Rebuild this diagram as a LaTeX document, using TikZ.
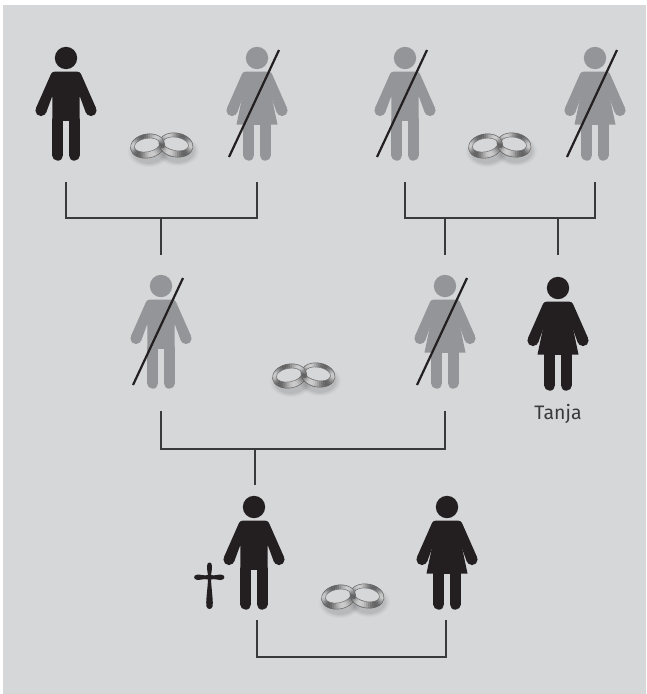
\documentclass[tikz,border=0pt]{standalone}
\usepackage{fontspec}
\setsansfont{Fira Sans}
\usetikzlibrary{calc}
\definecolor{bgc}{HTML}{D6D7D9}
\definecolor{ink}{HTML}{231F20}
\definecolor{ghost}{HTML}{939598}
\definecolor{wire}{HTML}{3A3A3C}
\tikzset{
 x=1pt,y=-1pt,
 wirel/.style={draw=wire,line width=1.2pt},
 slash/.style={draw=ink,line width=2.2pt},
 figbox/.style={inner sep=0pt,minimum width=2pt,anchor=south},
}
\newcommand{\upperbody}[1]{
 \fill[#1] (0,0) circle (11.2);
 \fill[#1] (25,52.5) circle (5.6) (-25,52.5) circle (5.6);
 \fill[#1] (-11,13.6) -- (11,13.6) .. controls (13,13.6) and (14,14.5) .. (15,16) -- (30.1,50.2) -- (20,55.1) -- (13.7,38) -- (13.7,70) -- (-13.7,70) -- (-13.7,38) -- (-20,55.1) -- (-30.1,50.2) -- (-15,16) .. controls (-14,14.5) and (-13,13.6) .. (-11,13.6) -- cycle;
 \draw[#1,line width=11pt,line cap=round] (-8.2,62) -- (-8.2,97.2) (8.2,62) -- (8.2,97.2);
}
\newcommand{\manfig}[3]{\begin{scope}[shift={(#1,#2)}]
 \upperbody{#3}
 \fill[bgc] (-2.7,63) rectangle (2.7,104);
\end{scope}}
\newcommand{\womanfig}[3]{\begin{scope}[shift={(#1,#2)}]
 \upperbody{#3}
 \fill[bgc] (-2.7,67) rectangle (2.7,104);
 \fill[#3] (-14.5,38) -- (14.5,38) -- (20.5,66.5) -- (-20.5,66.5) -- cycle;
\end{scope}}
% one ring made of shaded segments; #1,#2 centre, #3 tilt, #4 phase of the reflections
\newcommand{\ringband}[4]{\begin{scope}[shift={(#1,#2)},rotate=#3]
 \foreach \t in {0,8,...,352}{
  \pgfmathsetmacro{\u}{\t+8.6}
  \pgfmathsetmacro{\lev}{int(20+42*abs(sin(1.5*\t+#4))^2)}
  \fill[black!\lev] ({17.2*cos(\t)},{12*sin(\t)}) -- ({17.2*cos(\u)},{12*sin(\u)})
   -- ({-.3+12.8*cos(\u)},{-1+6.8*sin(\u)}) -- ({-.3+12.8*cos(\t)},{-1+6.8*sin(\t)}) -- cycle;
 }
 \draw[black!62,line width=.5pt] (0,0) ellipse (17.2 and 12);
 \draw[black!55,line width=.5pt] (-.3,-1) ellipse (12.8 and 6.8);
\end{scope}}
\newcommand{\rings}[2]{\begin{scope}[shift={(#1,#2)}]
 \foreach \r/\o in {21/.02,19.5/.03,18/.04,16.5/.05}{
  \fill[black,opacity=\o] (-12,6) ellipse ({\r} and {\r*.72});
  \fill[black,opacity=\o] (17,5) ellipse ({\r} and {\r*.72});
 }
 \fill[bgc,rotate around={10:(-13.5,0)}] (-13.8,-1) ellipse (12.8 and 6.8);
 \fill[bgc,rotate around={-10:(15,-1)}] (14.7,-2) ellipse (12.8 and 6.8);
 \ringband{15}{-1}{-10}{20}
 \ringband{-13.5}{0}{10}{70}
 \begin{scope}
  \clip (-6,2) rectangle (12,17);
  \ringband{15}{-1}{-10}{20}
 \end{scope}
\end{scope}}
\begin{document}
\begin{tikzpicture}
\useasboundingbox (0,0) rectangle (646,694);
\fill[white] (0,0) rectangle (646,694);
\fill[bgc] (3,5) rectangle (646,694);
% figures
\manfig{66}{58}{ink}
\womanfig{257}{58}{ghost}
\manfig{405}{58}{ghost}
\womanfig{595}{58}{ghost}
\manfig{161}{286}{ghost}
\womanfig{445}{286}{ghost}
\womanfig{558}{288}{ink}
\manfig{254}{507}{ink}
\womanfig{447}{507}{ink}
% strike-throughs
\foreach \fx/\fy in {257/58,405/58,595/58,161/286,445/286}
 \draw[slash] (\fx+22,\fy-8) -- (\fx-28,\fy+99);
% rings
\rings{161}{146}
\rings{499}{146}
\rings{303}{376}
\rings{352}{597}
% cross
\fill[ink] (209.5,562.5) .. controls (212.5,562.5) and (212.5,567) .. (211,575)
 .. controls (214,576) and (218,574.5) .. (221,574.5) .. controls (225.5,575) and (225.5,579.5) .. (221,580)
 .. controls (218,580) and (214,578.5) .. (211,579.5)
 .. controls (211.5,590) and (213.5,602) .. (212.5,606.5) .. controls (211.8,609.8) and (207.2,609.8) .. (206.5,606.5)
 .. controls (205.5,602) and (207.5,590) .. (208,579.5)
 .. controls (204.5,578.5) and (200.5,580) .. (197.5,580) .. controls (193,579.5) and (193,575) .. (197.5,574.5)
 .. controls (200.5,574.5) and (204.5,576) .. (208,575)
 .. controls (206.5,567) and (206.5,562.5) .. (209.5,562.5) -- cycle;
% invisible anchors for the connectors
\node[figbox,minimum height=135pt] (p1) at (66,182) {};
\node[figbox,minimum height=135pt] (p2) at (257,182) {};
\node[figbox,minimum height=135pt] (p3) at (405,182) {};
\node[figbox,minimum height=135pt] (p4) at (595,182) {};
\node[figbox,minimum height=156pt] (p5) at (161,411) {};
\node[figbox,minimum height=156pt] (p6) at (445,411) {};
\node[figbox,minimum height=156pt] (p7) at (558,411) {};
\node[figbox,minimum height=135pt] (p8) at (255,620) {};
\node[figbox,minimum height=135pt] (p9) at (446,620) {};
\node[inner sep=0pt,text=wire,font=\sffamily\fontsize{19.5}{19.5}\selectfont] (tanja) at (558,414) {Tanja};
% connectors
\draw[wirel] (p1.south) -- ++(0,36) -| (p2.south);
\draw[wirel] (p3.south) -- ++(0,36) -| (p4.south);
\draw[wirel] (p5.south) -- ++(0,38) -| (p6.south);
\draw[wirel] ($(p8.south)+(2,0)$) -- ++(0,37) -| (p9.south);
\draw[wirel] (p5.north) -- ++(0,-37);
\draw[wirel] (p6.north) -- ++(0,-37);
\draw[wirel] (p7.north) -- ++(0,-37);
\draw[wirel] (p8.north) -- ++(0,-36);
\end{tikzpicture}
\end{document}
